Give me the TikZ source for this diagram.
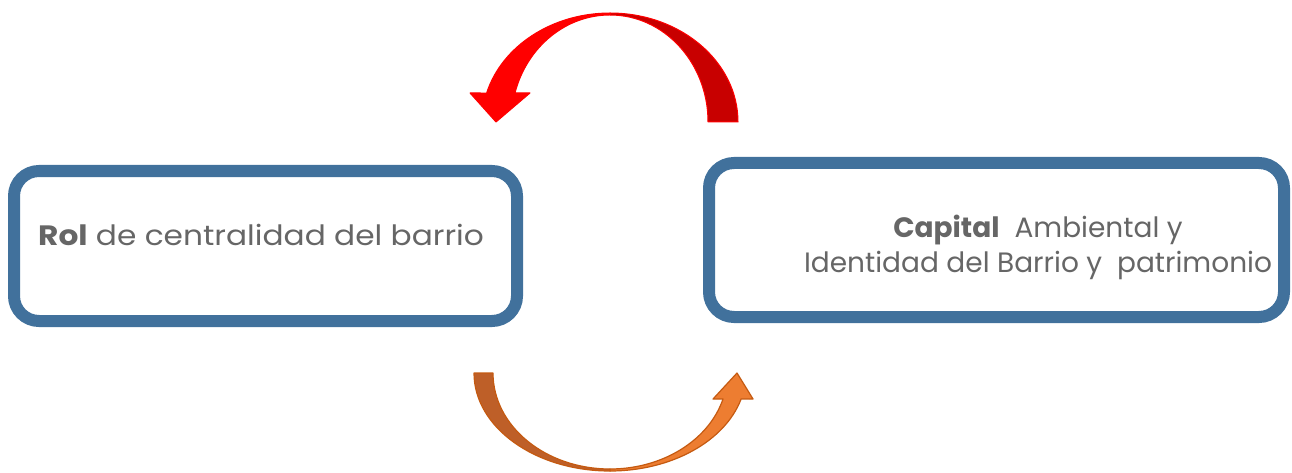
\documentclass[tikz,border=0pt]{standalone}
\usepackage{fontspec}
\setmainfont{Poppins}
\usepackage{graphicx}
\definecolor{boxblue}{HTML}{41719C}
\definecolor{txtgrey}{HTML}{666666}
\definecolor{redfront}{HTML}{FF0000}
\definecolor{redback}{HTML}{C80000}
\definecolor{orfront}{HTML}{ED7D31}
\definecolor{orback}{HTML}{BE5F28}
\definecolor{orline}{HTML}{C55A11}
\begin{document}
\begin{tikzpicture}[x=1pt,y=1pt,
  boxnode/.style={draw=boxblue,line width=12pt,rounded corners=25pt,rectangle,inner sep=0pt,fill=white},
  lbl/.style={inner sep=0pt,text=txtgrey,font=\fontsize{28}{34}\selectfont},
  redbk/.style={fill=redback,draw=redfront,line width=1pt,line join=round},
  redfr/.style={fill=redfront,draw=redfront,line width=1pt,line join=round},
  orbk/.style={fill=orback,draw=orline,line width=1.2pt,line join=round},
  orfr/.style={fill=orfront,draw=orline,line width=1.2pt,line join=round}]
\useasboundingbox (0,0) rectangle (1292,472);
% boxes
\node[boxnode,minimum width=503pt,minimum height=150pt] (rol) at (265.5,226) {};
\node[boxnode,minimum width=575pt,minimum height=154pt] (cap) at (996.5,232) {};
% texts
\node[lbl,anchor=base west] (roltxt) at (38,227) {\scalebox{1.115}[1]{\textbf{Rol} de centralidad del barrio}};
\node[lbl,anchor=base] (captxt1) at (1038,235) {\textbf{Capital}\ \ Ambiental y};
\node[lbl,anchor=base] (captxt2) at (1038,200) {Identidad del Barrio y\ \ patrimonio};
% top red curved arrow
\draw[redbk] (738,350) arc[start angle=0,end angle=90,x radius=128,y radius=109]
  -- (610,457) arc[start angle=90,end angle=0,x radius=98,y radius=107] -- cycle;
\draw[redfr] (610,459) arc[start angle=90,end angle=164.57,x radius=128,y radius=109]
  -- (470,379) -- (496,350) -- (530,379) -- (515,379)
  arc[start angle=164.28,end angle=90,x radius=98.7,y radius=107] -- cycle;
% bottom orange curved arrow
\draw[orbk] (474,99) arc[start angle=180,end angle=270,x radius=136,y radius=98]
  -- (610,3) arc[start angle=270,end angle=180,x radius=117,y radius=96] -- cycle;
\draw[orfr] (610,1) arc[start angle=270,end angle=344.62,x radius=136,y radius=98]
  -- (753,73) -- (737,99) -- (713,73) -- (723,73)
  arc[start angle=344.29,end angle=270,x radius=117.4,y radius=96] -- cycle;
\end{tikzpicture}
\end{document}
